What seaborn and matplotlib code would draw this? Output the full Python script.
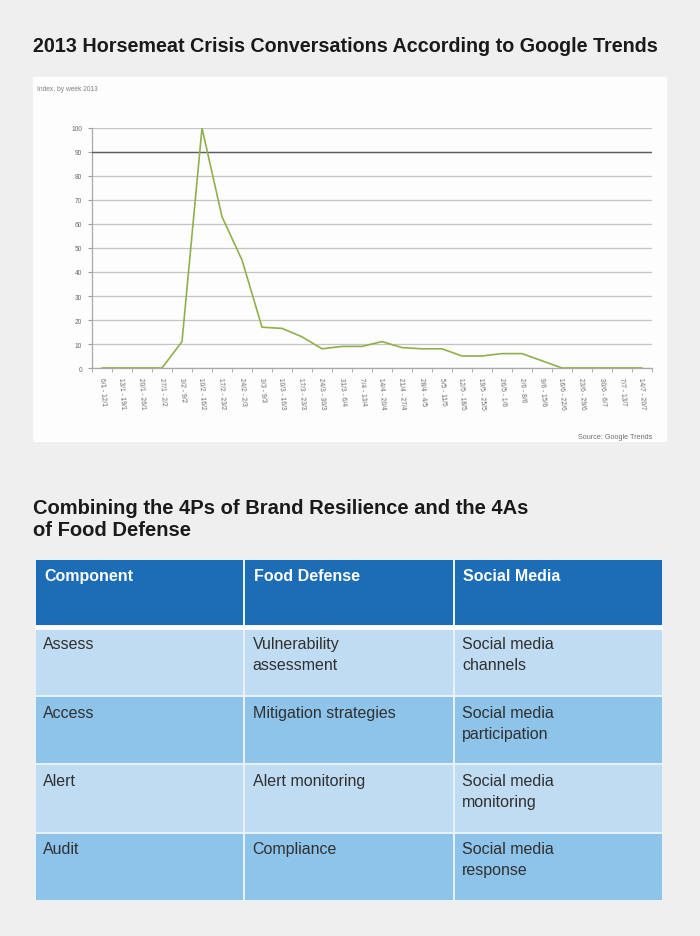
import numpy as np
import pandas as pd
import seaborn as sns
import matplotlib.pyplot as plt
from matplotlib.colors import ListedColormap

# chart data (Google Trends index, by week 2013)
weeks = [
    '6/1 - 12/1', '13/1 - 19/1', '20/1 - 26/1', '27/1 - 2/2', '3/2 - 9/2',
    '10/2 - 16/2', '17/2 - 23/2', '24/2 - 2/3', '3/3 - 9/3', '10/3 - 16/3',
    '17/3 - 23/3', '24/3 - 30/3', '31/3 - 6/4', '7/4 - 13/4', '14/4 - 20/4',
    '21/4 - 27/4', '28/4 - 4/5', '5/5 - 11/5', '12/5 - 18/5', '19/5 - 25/5',
    '26/5 - 1/6', '2/6 - 8/6', '9/6 - 15/6', '16/6 - 22/6', '23/6 - 29/6',
    '30/6 - 6/7', '7/7 - 13/7', '14/7 - 20/7',
]
interest = [0, 0, 0, 0, 11, 100, 63, 45, 17, 16.5, 13, 8, 9, 9, 11, 8.5,
            8, 8, 5, 5, 6, 6, 3, 0, 0, 0, 0, 0]

# table data
headers = ['Component', 'Food Defense', 'Social Media']
components = ['Assess', 'Access', 'Alert', 'Audit']
food_defense = ['Vulnerability\nassessment', 'Mitigation strategies',
                'Alert monitoring', 'Compliance']
social_media = ['Social media\nchannels', 'Social media\nparticipation',
                'Social media\nmonitoring', 'Social media\nresponse']

sns.set_style('white')
plt.rcParams['font.family'] = ['Liberation Sans', 'DejaVu Sans']

W, H = 700, 937
fig = plt.figure(figsize=(W / 100, H / 100), dpi=100, facecolor='#efefef')

def fx(px):
    return px / W

def fy(py):
    return 1 - py / H

fig.text(fx(33), fy(46), '2013 Horsemeat Crisis Conversations According to Google Trends',
         fontweight='bold', fontsize=14.2, color='#1a1a1a', va='center')

# white chart panel
panel = fig.add_axes([fx(33), fy(443), fx(667) - fx(33), fy(78) - fy(443)])
panel.set_facecolor('#fdfdfd')
panel.set_xticks([])
panel.set_yticks([])
for s in panel.spines.values():
    s.set_visible(False)

fig.text(fx(37), fy(90), 'Index, by week 2013', fontsize=4.8, color='#808080', va='center')
fig.text(fx(652), fy(438), 'Source: Google Trends', fontsize=5.2, color='#707070',
         va='center', ha='right')

ax = fig.add_axes([fx(92), fy(369), fx(652) - fx(92), fy(129) - fy(369)])
ax.set_facecolor('none')
trend = pd.DataFrame({'pos': np.arange(len(weeks)), 'index': interest})
sns.lineplot(data=trend, x='pos', y='index', ax=ax, color='#8fb04c', lw=1.2, zorder=5)

ax.set_xlim(-0.5, len(weeks) - 0.5)
ax.set_ylim(0, 100)
ax.set_yticks(range(0, 101, 10))
ax.grid(axis='y', color='#c4c4c4', lw=0.9)
ax.grid(axis='x', visible=False)
ax.axhline(90, color='#5c5c5c', lw=1.0, zorder=3)
ax.set_xticks(np.arange(len(weeks)))
ax.set_xticklabels(weeks, rotation=-86, fontsize=4.8, color='#6a6a6a', va='top')
ax.set_xticks(np.arange(len(weeks) + 1) - 0.5, minor=True)
ax.tick_params(axis='x', which='major', length=0, pad=6)
ax.tick_params(axis='x', which='minor', length=3, color='#a0a0a0', direction='out', bottom=True)
ax.tick_params(axis='y', length=3, color='#a0a0a0', direction='out', left=True,
               labelsize=4.8, labelcolor='#6a6a6a', pad=4)
ax.set_xlabel('')
ax.set_ylabel('')
for side in ['top', 'right']:
    ax.spines[side].set_visible(False)
for side in ['left', 'bottom']:
    ax.spines[side].set_color('#a8a8a8')
    ax.spines[side].set_linewidth(0.9)

# table section
fig.text(fx(33), fy(520), 'Combining the 4Ps of Brand Resilience and the 4As\nof Food Defense',
         fontweight='bold', fontsize=14.5, color='#1a1a1a',
         va='center', linespacing=1.2)

tab = fig.add_axes([fx(35), fy(902), fx(663) - fx(35), fy(560) - fy(902)])
cells = pd.DataFrame({headers[0]: components, headers[1]: food_defense,
                      headers[2]: social_media})
shade = np.array([[0] * 3] + [[1 + (i % 2)] * 3 for i in range(len(cells))])
sns.heatmap(shade, ax=tab, cmap=ListedColormap(['#1c6cb6', '#bfdcf3', '#8ec3ea']),
            vmin=-0.5, vmax=2.5, cbar=False, linewidths=1.2, linecolor='#e6f1fa',
            xticklabels=False, yticklabels=False)
tab.axhline(1, color='white', lw=3.5)

for j, col in enumerate(headers):
    tab.text(j + 0.045, 0.13, col, fontsize=11.5, fontweight='bold', color='white',
             va='top', ha='left')
for i, row in enumerate(cells.itertuples(index=False)):
    for j, val in enumerate(row):
        tab.text(j + 0.04, i + 1 + 0.13, val, fontsize=11.5, color='#303030',
                 va='top', ha='left', linespacing=1.5)

fig.savefig('out.png', dpi=100, facecolor=fig.get_facecolor())
